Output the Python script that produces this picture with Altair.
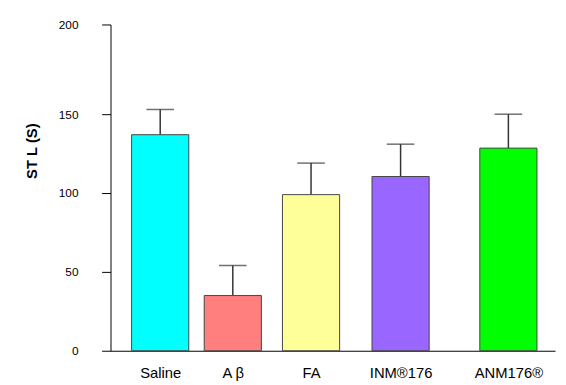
import altair as alt
import pandas as pd

groups = ["Saline", "A β", "FA", "INM®176", "ANM176®"]
group_pos = [1.03, 2.7, 4.5, 6.56, 9.04]
means = [137, 35, 99, 110.5, 128.5]
upper = [153, 54, 119, 131, 150]
colors = ["#00FFFF", "#FF7F7F", "#FFFF99", "#9966FF", "#00FF00"]

y_ticks = [0, 50, 100, 150, 206.9]
y_max = 206.9

df = pd.DataFrame({"group": groups, "pos": group_pos, "mean": means, "upper": upper, "color": colors})

label_expr = " : ".join(
    [f"abs(datum.value - {p}) < 0.01 ? '{g}'" for p, g in zip(group_pos, groups)]
) + " : ''"

x = alt.X(
    "pos:Q",
    scale=alt.Scale(domain=[0, 10], nice=False, zero=False),
    axis=alt.Axis(
        title=None, values=group_pos, labelExpr=label_expr, ticks=False, grid=False,
        domainColor="#000000", labelFont="Liberation Sans",
        labelFontSize=15, labelColor="#000000", labelPadding=15, labelFlush=False,
        labelOverlap=False,
    ),
)

y_axis = alt.Axis(
    title="ST L (S)", values=y_ticks,
    labelExpr="datum.value > 200 ? '200' : datum.label",
    grid=False, domainColor="#000000", tickColor="#000000", tickSize=9,
    labelFont="Liberation Sans", labelFontSize=12,
    labelColor="#000000", labelPadding=24,
    titleFont="Liberation Sans", titleFontSize=15, titleFontWeight="bold",
    titleColor="#000000", titlePadding=19, titleY=128,
)

base = alt.Chart(df)

errs = base.mark_rule(color="#333333", strokeWidth=1.5).encode(
    x=x,
    y=alt.Y("mean:Q", scale=alt.Scale(domain=[0, y_max], nice=False), axis=y_axis),
    y2="upper:Q",
)
caps = base.mark_tick(color="#333333", thickness=1.5, size=28, orient="horizontal").encode(
    x=x, y=alt.Y("upper:Q")
)
bars = base.mark_bar(size=58, stroke="#444444", strokeWidth=1).encode(
    x=x,
    y=alt.Y("mean:Q"),
    color=alt.Color("color:N", scale=None),
)

chart = alt.layer(errs, caps, bars).properties(
    width=451, height=331,
    autosize=alt.AutoSizeParams(type="none"),
    padding={"left": 104, "top": 14, "right": 3, "bottom": 30},
).configure_view(stroke=None)

chart.save("out.html", embed_options={"renderer": "svg", "actions": False})
